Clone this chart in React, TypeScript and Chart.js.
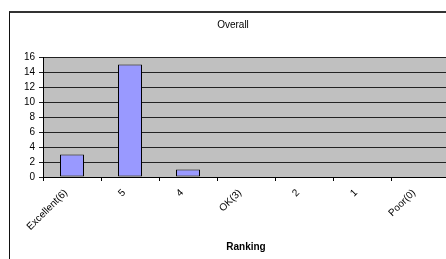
import React, { useEffect, useRef } from "react";
import { Chart, registerables } from "chart.js";

Chart.register(...registerables);

const categories = ["Excellent(6)", "5", "4", "OK(3)", "2", "1", "Poor(0)"];
const counts = [3, 15, 1, 0, 0, 0, 0];
const yMin = 0;
const yMax = 16;
const yStep = 2;
const chartTitle = "Overall";
const xTitle = "Ranking";

const FONT = "'Liberation Sans', Arial, sans-serif";

const plotBg = {
  id: "plotBg",
  beforeDraw(chart: any) {
    const { ctx, chartArea } = chart;
    ctx.save();
    ctx.fillStyle = "#C0C0C0";
    ctx.fillRect(chartArea.left, chartArea.top, chartArea.right - chartArea.left, chartArea.bottom - chartArea.top);
    ctx.restore();
  },
};

export default function App() {
  const ref = useRef<HTMLCanvasElement>(null);
  useEffect(() => {
    if (!ref.current) return;
    const chart = new Chart(ref.current, {
      type: "bar",
      data: {
        labels: categories,
        datasets: [
          {
            data: counts,
            backgroundColor: "#9999FF",
            borderColor: "#000000",
            borderWidth: 1,
            borderSkipped: false,
            barPercentage: 0.414,
            categoryPercentage: 1,
          },
        ],
      },
      options: {
        animation: false,
        responsive: false,
        devicePixelRatio: 1,
        layout: { padding: { left: 17, right: 17, top: 0, bottom: 0 } },
        plugins: {
          legend: { display: false },
          tooltip: { enabled: false },
          title: {
            display: true,
            text: chartTitle,
            color: "#000",
            font: { family: FONT, size: 10, weight: "normal", lineHeight: 1.2 },
            padding: { top: 19, bottom: 26 },
          },
        },
        scales: {
          x: {
            offset: true,
            grid: {
              offset: true,
              drawOnChartArea: false,
              drawTicks: true,
              tickLength: 4,
              color: "#000",
            },
            border: { color: "#000", width: 1 },
            ticks: {
              color: "#000",
              font: { family: FONT, size: 10 },
              minRotation: 45,
              maxRotation: 45,
              autoSkip: false,
              padding: 6,
              labelOffset: -6,
            },
            title: {
              display: true,
              text: xTitle,
              color: "#000",
              font: { family: FONT, size: 10, weight: "bold" },
              padding: { top: 4, bottom: 6 },
            },
            afterFit(scale: any) {
              scale.height = 82;
            },
          },
          y: {
            min: yMin,
            max: yMax,
            ticks: {
              stepSize: yStep,
              color: "#000",
              font: { family: FONT, size: 10 },
              padding: 4,
            },
            grid: {
              color: "#222",
              lineWidth: 1,
              tickLength: 4,
            },
            border: { color: "#000", width: 1 },
            afterFit(scale: any) {
              scale.width = 26;
            },
          },
        },
      },
      plugins: [plotBg],
    });
    return () => chart.destroy();
  }, []);

  return (
    <div
      style={{
        position: "fixed",
        left: 0,
        top: 0,
        width: 446,
        height: 259,
        overflow: "hidden",
        background: "#fff",
      }}
    >
      <canvas
        ref={ref}
        width={466}
        height={259}
        style={{ position: "absolute", left: 0, top: 0, width: 466, height: 259 }}
      />
      <div
        style={{
          position: "absolute",
          left: 9,
          top: 11,
          width: 480,
          height: 300,
          borderTop: "2px solid #333",
          borderLeft: "1px solid #111",
          pointerEvents: "none",
        }}
      />
    </div>
  );
}
